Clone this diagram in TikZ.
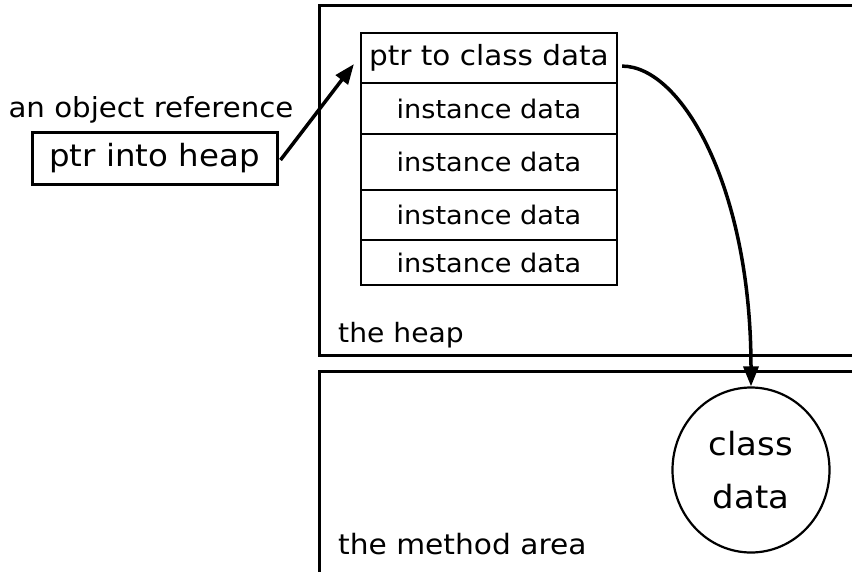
\documentclass[tikz,border=0pt]{standalone}
\usepackage{fontspec}
\setmainfont[FakeStretch=1.06]{DejaVu Sans}
\usetikzlibrary{arrows.meta,shapes.geometric}
\tikzset{
  area/.style={draw, line width=3pt},
  cell/.style={draw, line width=2.2pt, minimum width=256pt, inner sep=0pt, anchor=north, font=\fontsize{25.6}{30}\selectfont},
  lbl/.style={inner sep=0pt, font=\fontsize{27.6}{30}\selectfont},
  conn/.style={line width=3.5pt, -{Triangle[length=20pt, width=15pt]}},
}
\begin{document}
\begin{tikzpicture}[x=1pt,y=-1pt]
\useasboundingbox (0,0) rectangle (852,571);
\begin{scope}
\clip (0,0) rectangle (852,571);
\draw[area] (319,5) rectangle (1000,355);
\draw[area] (319,371) rectangle (1000,700);
\end{scope}
\node[lbl, anchor=base west, font=\fontsize{26.6}{30}\selectfont] (heaplbl) at (338,342) {the heap};
\node[lbl, anchor=base west, font=\fontsize{28}{30}\selectfont] (methodlbl) at (338,554) {the method area};
\node[lbl, anchor=base] (objref) at (151,117) {an object reference};
\node[draw, line width=3pt, minimum width=245pt, minimum height=52pt, inner sep=0pt, font=\fontsize{30.6}{34}\selectfont] (ptr) at (154.5,158) {ptr into heap};
\node[cell, minimum height=50pt, font=\fontsize{27.8}{30}\selectfont] (r1) at (489,32) {ptr to class data};
\node[cell, minimum height=51pt] (r2) at (489,82) {instance data};
\node[cell, minimum height=56pt] (r3) at (489,133) {instance data};
\node[cell, minimum height=50pt] (r4) at (489,189) {instance data};
\node[cell, minimum height=45pt] (r5) at (489,239) {instance data};
\node[draw, line width=2.2pt, ellipse, minimum width=157pt, minimum height=165pt, inner sep=0pt, align=center, font=\fontsize{32}{53}\selectfont] (cls) at (751,470) {class\\data};
\draw[conn] ([xshift=2pt,yshift=-2pt]ptr.east) -- ([xshift=-6pt,yshift=-6pt]r1.west);
\draw[conn] ([xshift=4pt,yshift=-8pt]r1.east) .. controls +(60,0) and +(0,-198) .. (cls.north);
\end{tikzpicture}
\end{document}
